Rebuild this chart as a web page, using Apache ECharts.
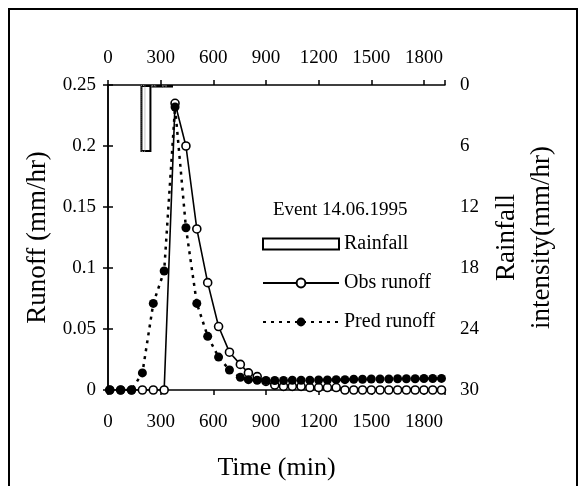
<!DOCTYPE html>
<html><head><meta charset="utf-8">
<script src="https://cdn.jsdelivr.net/npm/echarts@6/dist/echarts.min.js"></script>
<style>html,body{margin:0;padding:0;background:#fff}#c{width:581px;height:486px}</style>
</head><body><div id="c"></div>
<script>
// Time (min) of observation / prediction steps
const timeSteps = [10, 72, 134, 196, 258, 320, 382, 444, 506, 568, 630, 692, 754,
  800, 850, 900, 950, 1000, 1050, 1100, 1150, 1200, 1250, 1300, 1350, 1400, 1450,
  1500, 1550, 1600, 1650, 1700, 1750, 1800, 1850, 1900];
const obsRunoff = [0, 0, 0, 0, 0, 0, 0.235, 0.200, 0.132, 0.088, 0.052, 0.031, 0.021,
  0.014, 0.011, 0.007, 0.004, 0.003, 0.003, 0.003, 0.002, 0.002, 0.002, 0.002, 0, 0, 0,
  0, 0, 0, 0, 0, 0, 0, 0, 0];
const predRunoff = [0, 0, 0, 0.014, 0.071, 0.0975, 0.232, 0.133, 0.071, 0.044, 0.027, 0.0164, 0.0104,
  0.0085, 0.008, 0.0078, 0.0078, 0.0078, 0.008, 0.008, 0.008, 0.0082, 0.0082, 0.0085, 0.0085, 0.0088, 0.0088,
  0.009, 0.009, 0.009, 0.0092, 0.0092, 0.0092, 0.0094, 0.0094, 0.0095];
const rainTime = [199, 261, 322];
const rainIntensity = [6.6, 0.25, 0.25];
const xTicks = [0, 300, 600, 900, 1200, 1500, 1800];
const eventLabel = 'Event 14.06.1995';

const F = 'Liberation Serif';
const pair = (xs, ys) => xs.map((x, i) => [x, ys[i]]);
const xLab = v => (xTicks.indexOf(v) >= 0 ? String(v) : '');

const chart = echarts.init(document.getElementById('c'));
const axisCommon = {
  type: 'value', min: 0, max: 1920, interval: 300,
  axisLine: { show: true, onZero: false, lineStyle: { color: '#000', width: 1.5 } },
  axisTick: { show: true, length: 5, lineStyle: { color: '#000', width: 1.5 } },
  splitLine: { show: false },
};
chart.setOption({
  animation: false,
  backgroundColor: '#fff',
  textStyle: { fontFamily: F },
  grid: { left: 108, right: 136, top: 85, bottom: 96 },
  graphic: [
    { type: 'rect', shape: { x: 9, y: 9, width: 568, height: 500 },
      style: { fill: 'none', stroke: '#000', lineWidth: 2 } },
    { type: 'text', left: 273, top: 201,
      style: { text: eventLabel, font: '19px "Liberation Serif"', fill: '#000' } }
  ],
  legend: {
    left: 257, top: 229, orient: 'vertical', itemWidth: 76, itemHeight: 11, itemGap: 19,
    textStyle: { fontFamily: F, fontSize: 20, color: '#000', padding: [0, 0, 0, 0] },
    data: [
      { name: 'Rainfall', icon: 'rect' },
      { name: 'Obs runoff' },
      { name: 'Pred runoff' }
    ]
  },
  xAxis: [
    Object.assign({}, axisCommon, {
      position: 'bottom',
      axisLabel: { formatter: xLab, fontFamily: F, fontSize: 19, color: '#000', margin: 23 },
      name: 'Time (min)', nameLocation: 'middle', nameGap: 65,
      nameTextStyle: { fontFamily: F, fontSize: 26, color: '#000' }
    }),
    Object.assign({}, axisCommon, {
      position: 'top',
      axisLabel: { formatter: xLab, fontFamily: F, fontSize: 19, color: '#000', margin: 17 }
    })
  ],
  yAxis: [
    {
      type: 'value', position: 'left', min: 0, max: 0.25, interval: 0.05,
      axisLine: { show: true, lineStyle: { color: '#000', width: 1.5 } },
      axisTick: { show: true, length: 5, lineStyle: { color: '#000', width: 1.5 } },
      splitLine: { show: false },
      axisLabel: { fontFamily: F, fontSize: 19, color: '#000', margin: 12 },
      name: 'Runoff (mm/hr)', nameLocation: 'middle', nameGap: 54, nameRotate: 90,
      nameTextStyle: { fontFamily: F, fontSize: 27, color: '#000' }
    },
    {
      type: 'value', position: 'right', min: 0, max: 30, interval: 6, inverse: true,
      axisLine: { show: true, lineStyle: { color: '#000', width: 1.5 } },
      axisTick: { show: true, length: 5, lineStyle: { color: '#000', width: 1.5 } },
      splitLine: { show: false },
      axisLabel: { fontFamily: F, fontSize: 19, color: '#000', margin: 15 },
      name: 'Rainfall\nintensity(mm/hr)', nameLocation: 'middle', nameGap: 44, nameRotate: 90,
      nameTextStyle: { fontFamily: F, fontSize: 27, color: '#000', lineHeight: 35 }
    }
  ],
  series: [
    {
      name: 'Rainfall', type: 'bar', xAxisIndex: 0, yAxisIndex: 1,
      data: pair(rainTime, rainIntensity), barWidth: 11, barGap: '-100%',
      itemStyle: { color: '#fff', borderColor: '#000', borderWidth: 2 }
    },
    {
      name: 'RainInner', type: 'bar', xAxisIndex: 0, yAxisIndex: 1,
      data: pair(rainTime, rainIntensity), barWidth: 5, barGap: '-100%',
      itemStyle: { color: 'rgba(0,0,0,0)', borderColor: '#888', borderWidth: 1, borderType: 'dotted' },
      silent: true
    },
    {
      name: 'Obs runoff', type: 'line', xAxisIndex: 0, yAxisIndex: 0,
      data: pair(timeSteps, obsRunoff),
      symbol: 'circle', symbolSize: 8, showAllSymbol: true,
      lineStyle: { color: '#000', width: 1.6, type: 'solid' },
      itemStyle: { color: '#fff', borderColor: '#000', borderWidth: 1.6 }
    },
    {
      name: 'Pred runoff', type: 'line', xAxisIndex: 0, yAxisIndex: 0,
      data: pair(timeSteps, predRunoff),
      symbol: 'circle', symbolSize: 9, showAllSymbol: true,
      lineStyle: { color: '#000', width: 2.5, type: [3, 5] },
      itemStyle: { color: '#000', borderColor: '#000', borderWidth: 0 }
    }
  ]
});
</script></body></html>
